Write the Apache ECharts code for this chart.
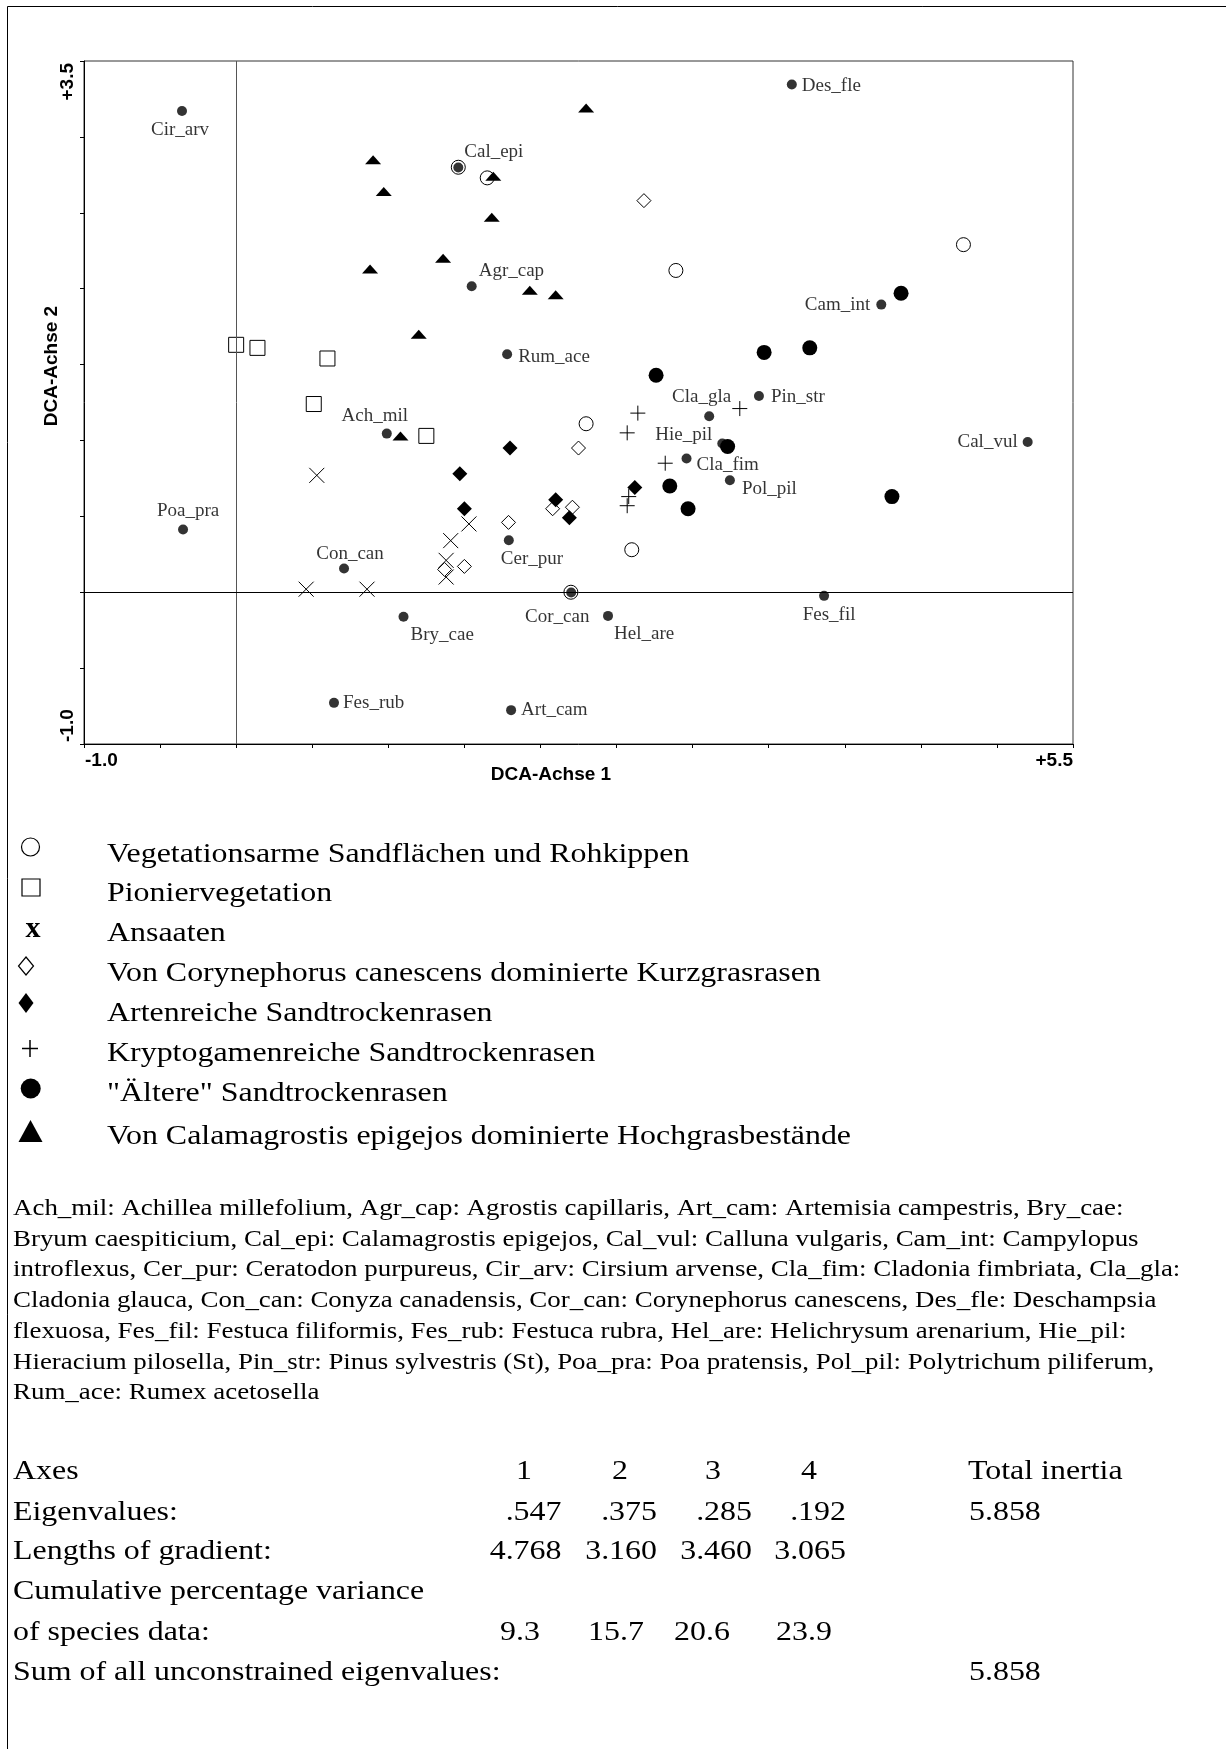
<!DOCTYPE html>
<html>
<head>
<meta charset="utf-8">
<title>DCA</title>
<script src="https://cdn.jsdelivr.net/npm/echarts@6/dist/echarts.min.js"></script>
<style>
  html, body { margin: 0; padding: 0; background: #fff; }
  #main { width: 1226px; height: 1749px; }
</style>
</head>
<body>
<div id="main"></div>
<script>
// Aufnahmen je Vegetationstyp: [DCA-Achse 1, DCA-Achse 2]
var sandflaechen = [[1.46, 2.80], [1.65, 2.73], [2.89, 2.12], [4.78, 2.29], [2.30, 1.11], [2.60, 0.28], [2.20, 0.00]];
var pionier = [[0.00, 1.63], [0.14, 1.61], [0.60, 1.54], [0.51, 1.24], [1.25, 1.03]];
var ansaaten = [[0.53, 0.77], [1.53, 0.45], [1.41, 0.34], [1.38, 0.21], [1.38, 0.10], [0.46, 0.02], [0.86, 0.02]];
var kurzgras = [[2.68, 2.58], [2.25, 0.95], [1.79, 0.46], [2.08, 0.55], [2.21, 0.56], [1.37, 0.15], [1.50, 0.17]];
var artenreich = [[1.80, 0.95], [1.47, 0.78], [1.50, 0.55], [2.10, 0.61], [2.19, 0.49], [2.62, 0.69]];
var kryptogamen = [[2.64, 1.18], [2.57, 1.05], [3.31, 1.21], [2.82, 0.85], [2.58, 0.63], [2.57, 0.57]];
var aeltere = [[4.37, 1.97], [3.77, 1.61], [3.47, 1.58], [2.76, 1.43], [3.23, 0.96], [2.85, 0.70], [2.97, 0.55], [4.31, 0.63]];
var hochgras = [[0.90, 2.85], [0.97, 2.64], [1.69, 2.74], [1.68, 2.47], [1.36, 2.20], [0.88, 2.13], [1.93, 1.99],
                [2.10, 1.96], [1.20, 1.70], [2.30, 3.19], [1.08, 1.03]];

// Arten
var speciesNames = ['Cir_arv', 'Cal_epi', 'Agr_cap', 'Rum_ace', 'Des_fle', 'Cam_int', 'Pin_str', 'Cla_gla', 'Hie_pil',
  'Cla_fim', 'Pol_pil', 'Cal_vul', 'Ach_mil', 'Poa_pra', 'Con_can', 'Cer_pur', 'Cor_can', 'Bry_cae', 'Hel_are',
  'Fes_fil', 'Fes_rub', 'Art_cam'];
var speciesScores = [[-0.356, 3.171], [1.460, 2.798], [1.548, 2.016], [1.781, 1.568], [3.652, 3.345], [4.240, 1.895],
  [3.436, 1.293], [3.109, 1.159], [3.195, 0.980], [2.960, 0.881], [3.245, 0.738], [5.202, 0.990], [0.990, 1.045],
  [-0.349, 0.413], [0.709, 0.156], [1.792, 0.343], [2.202, -0.002], [1.100, -0.162], [2.444, -0.156], [3.864, -0.024],
  [0.643, -0.729], [1.807, -0.777]];

var groupNames = ['Vegetationsarme Sandflächen und Rohkippen', 'Pioniervegetation', 'Ansaaten',
  'Von Corynephorus canescens dominierte Kurzgrasrasen', 'Artenreiche Sandtrockenrasen',
  'Kryptogamenreiche Sandtrockenrasen', '"Ältere" Sandtrockenrasen',
  'Von Calamagrostis epigejos dominierte Hochgrasbestände'];

var axisMin = [-1.0, -1.0];
var axisMax = [5.5, 3.5];

var footnote = [
  'Ach_mil: Achillea millefolium, Agr_cap: Agrostis capillaris, Art_cam: Artemisia campestris, Bry_cae:',
  'Bryum caespiticium, Cal_epi: Calamagrostis epigejos, Cal_vul: Calluna vulgaris, Cam_int: Campylopus',
  'introflexus, Cer_pur: Ceratodon purpureus, Cir_arv: Cirsium arvense, Cla_fim: Cladonia fimbriata, Cla_gla:',
  'Cladonia glauca, Con_can: Conyza canadensis, Cor_can: Corynephorus canescens, Des_fle: Deschampsia',
  'flexuosa, Fes_fil: Festuca filiformis, Fes_rub: Festuca rubra, Hel_are: Helichrysum arenarium, Hie_pil:',
  'Hieracium pilosella, Pin_str: Pinus sylvestris (St), Poa_pra: Poa pratensis, Pol_pil: Polytrichum piliferum,',
  'Rum_ace: Rumex acetosella'
];
var axesCols = ['1', '2', '3', '4'];
var eigenvalues = ['.547', '.375', '.285', '.192'];
var gradientLengths = ['4.768', '3.160', '3.460', '3.065'];
var cumVariance = ['9.3', '15.7', '20.6', '23.9'];
var totalInertia = '5.858';
var sumEigenvalues = '5.858';

// Beschriftungslage der Arten: [align, dx, dy] relativ zum Punkt
var labelLayout = {
  Cir_arv: ['center', -2, 19], Cal_epi: ['left', 6, -16], Agr_cap: ['left', 7, -15], Rum_ace: ['left', 11, 3],
  Des_fle: ['left', 10, 1], Cam_int: ['right', -11, 0], Pin_str: ['left', 12, 1], Cla_gla: ['right', 22, -19],
  Hie_pil: ['right', -10, -8], Cla_fim: ['left', 10, 7], Pol_pil: ['left', 12, 9], Cal_vul: ['right', -10, 0],
  Ach_mil: ['center', -12, -18], Poa_pra: ['center', 5, -19], Con_can: ['center', 6, -15], Cer_pur: ['left', -8, 19],
  Cor_can: ['center', -14, 24], Bry_cae: ['left', 7, 18], Hel_are: ['left', 6, 18], Fes_fil: ['center', 5, 19],
  Fes_rub: ['left', 9, 0], Art_cam: ['left', 10, 0]
};

var serif = '"Liberation Serif", "Times New Roman", serif';
var sans = '"Liberation Sans", Arial, sans-serif';

var chart = echarts.init(document.getElementById('main'), null, { renderer: 'canvas' });

function siteSeries(name, data, symbol, size, fill, stroke) {
  return {
    name: name, type: 'scatter', data: data, symbol: symbol, symbolSize: size, z: 3,
    itemStyle: { color: fill, borderColor: stroke ? '#000' : undefined, borderWidth: stroke ? 1 : 0, opacity: 1 },
    emphasis: { disabled: true }
  };
}

var speciesData = speciesNames.map(function (n, i) {
  var l = labelLayout[n];
  return {
    name: n, value: speciesScores[i],
    label: { show: true, position: [5 + l[1], 5 + l[2]], align: l[0], verticalAlign: 'middle' }
  };
});

var series = [
  {
    type: 'scatter', data: [], z: 1, silent: true,
    markLine: {
      silent: true, symbol: 'none', label: { show: false }, animation: false,
      data: [
        { xAxis: 0, lineStyle: { color: '#555', width: 1, type: 'solid' } },
        { yAxis: 0, lineStyle: { color: '#000', width: 1, type: 'solid' } }
      ]
    }
  },
  siteSeries(groupNames[0], sandflaechen, 'circle', 14, '#fff', true),
  siteSeries(groupNames[1], pionier, 'rect', 15, '#fff', true),
  siteSeries(groupNames[2], ansaaten, 'path://M0,0L10,10M10,0L0,10', 15, 'transparent', true),
  siteSeries(groupNames[3], kurzgras, 'diamond', 14, '#fff', true),
  siteSeries(groupNames[4], artenreich, 'diamond', 15, '#000', false),
  siteSeries(groupNames[5], kryptogamen, 'path://M5,0L5,10M0,5L10,5', 15, 'transparent', true),
  siteSeries(groupNames[6], aeltere, 'circle', 15, '#000', false),
  siteSeries(groupNames[7], hochgras, 'triangle', [16, 9], '#000', false),
  {
    name: 'Arten', type: 'scatter', data: speciesData, symbol: 'circle', symbolSize: 10, z: 5,
    itemStyle: { color: '#000' },
    label: { color: '#000', fontFamily: serif, fontSize: 19, formatter: '{b}' },
    labelLayout: { hideOverlap: false },
    emphasis: { disabled: true }
  }
];

function valueAxis(i) {
  return {
    type: 'value', min: axisMin[i], max: axisMax[i], interval: 0.5,
    axisLine: { show: true, onZero: false, lineStyle: { color: '#000', width: 1 } },
    axisTick: { show: true, inside: false, length: 4, lineStyle: { color: '#000', width: 1 } },
    axisLabel: { show: false },
    splitLine: { show: false }
  };
}

chart.setOption({
  animation: false,
  backgroundColor: '#fff',
  grid: { left: 84, top: 61, width: 989, height: 683, show: true, borderColor: '#333', borderWidth: 1, backgroundColor: 'transparent' },
  xAxis: valueAxis(0),
  yAxis: valueAxis(1),
  series: series
});

// Texte ausserhalb des Diagramms
function px(x, y) { return chart.convertToPixel({ gridIndex: 0 }, [x, y]); }
var lo = px(axisMin[0], axisMin[1]);
var hi = px(axisMax[0], axisMax[1]);

function txt(text, x, y, font, align, extra) {
  var el = {
    type: 'text', x: x, y: y, silent: true,
    style: { text: text, x: 0, y: 0, font: font, fill: '#000', align: align || 'left', textAlign: align || 'left',
      verticalAlign: 'middle', textVerticalAlign: 'middle' }
  };
  if (extra) { for (var k in extra) el[k] = extra[k]; }
  return el;
}

var g = [];
// Rahmen
g.push({ type: 'rect', silent: true, shape: { x: 7.5, y: 6.5, width: 1300, height: 1800 },
  style: { fill: 'none', stroke: '#000', lineWidth: 1 } });

// Achsenbeschriftung
var bold = 'bold 19px ' + sans;
g.push(txt('+3.5', 68, hi[1] + 2, bold, 'right', { rotation: Math.PI / 2 }));
g.push(txt('-1.0', 68, lo[1] - 2, bold, 'left', { rotation: Math.PI / 2 }));
g.push(txt('-1.0', lo[0] + 1, 761, bold, 'left'));
g.push(txt('+5.5', hi[0], 761, bold, 'right'));
g.push(txt('DCA-Achse 1', 551, 775, bold, 'center'));
g.push(txt('DCA-Achse 2', 52, 366, bold, 'center', { rotation: Math.PI / 2 }));

// Legende
var stretch = 1.14;
var legendFont = '28px ' + serif;
var rowY = [854.6, 893.6, 933.8, 974, 1014, 1053.5, 1094, 1137];
groupNames.forEach(function (n, i) {
  g.push(txt(n, 107, rowY[i], legendFont, 'left', { scaleX: stretch }));
});
var sym = { fill: 'none', stroke: '#000', lineWidth: 1.2 };
var solid = { fill: '#000', stroke: 'none' };
g.push({ type: 'circle', silent: true, shape: { cx: 30.5, cy: 847, r: 9 }, style: sym });
g.push({ type: 'rect', silent: true, shape: { x: 22, y: 879, width: 18, height: 17 }, style: sym });
g.push(txt('x', 33, 929, 'bold 30px ' + serif, 'center'));
g.push({ type: 'polygon', silent: true, shape: { points: [[26, 957], [33.5, 966], [26, 975], [18.5, 966]] }, style: sym });
g.push({ type: 'polygon', silent: true, shape: { points: [[26, 993], [33.5, 1003], [26, 1013], [18.5, 1003]] }, style: solid });
g.push({ type: 'polyline', silent: true, shape: { points: [[30, 1040], [30, 1057]] }, style: { stroke: '#000', lineWidth: 1.5 } });
g.push({ type: 'polyline', silent: true, shape: { points: [[22, 1048.5], [38, 1048.5]] }, style: { stroke: '#000', lineWidth: 1.5 } });
g.push({ type: 'circle', silent: true, shape: { cx: 30.7, cy: 1088.5, r: 10 }, style: solid });
g.push({ type: 'polygon', silent: true, shape: { points: [[18.5, 1142], [42.5, 1142], [30.5, 1120]] }, style: solid });

// Artenschluessel
var noteFont = '23px ' + serif;
footnote.forEach(function (line, i) {
  g.push(txt(line, 13, 1209 + i * 30.7, noteFont, 'left', { scaleX: 1.17 }));
});

// Tabelle
var tabFont = '28px ' + serif;
var rows = [1471.5, 1512.7, 1552, 1592, 1632.5, 1673];
['Axes', 'Eigenvalues:', 'Lengths of gradient:', 'Cumulative percentage variance', 'of species data:',
  'Sum of all unconstrained eigenvalues:'].forEach(function (t, i) {
  g.push(txt(t, 13, rows[i], tabFont, 'left', { scaleX: stretch }));
});
var colCenter = [524, 620, 713, 809];
var colRight = [561.5, 657, 752, 846];
var cumLeft = [500, 588, 674, 776];
axesCols.forEach(function (t, i) { g.push(txt(t, colCenter[i], rows[0], tabFont, 'center', { scaleX: stretch })); });
eigenvalues.forEach(function (t, i) { g.push(txt(t, colRight[i], rows[1], tabFont, 'right', { scaleX: stretch })); });
gradientLengths.forEach(function (t, i) { g.push(txt(t, colRight[i], rows[2], tabFont, 'right', { scaleX: stretch })); });
cumVariance.forEach(function (t, i) { g.push(txt(t, cumLeft[i], rows[4], tabFont, 'left', { scaleX: stretch })); });
g.push(txt('Total inertia', 968, rows[0], tabFont, 'left', { scaleX: stretch }));
g.push(txt(totalInertia, 969, rows[1], tabFont, 'left', { scaleX: stretch }));
g.push(txt(sumEigenvalues, 969, rows[5], tabFont, 'left', { scaleX: stretch }));

chart.setOption({ graphic: g });
window.addEventListener('resize', function () { chart.resize(); });
</script>
</body>
</html>
